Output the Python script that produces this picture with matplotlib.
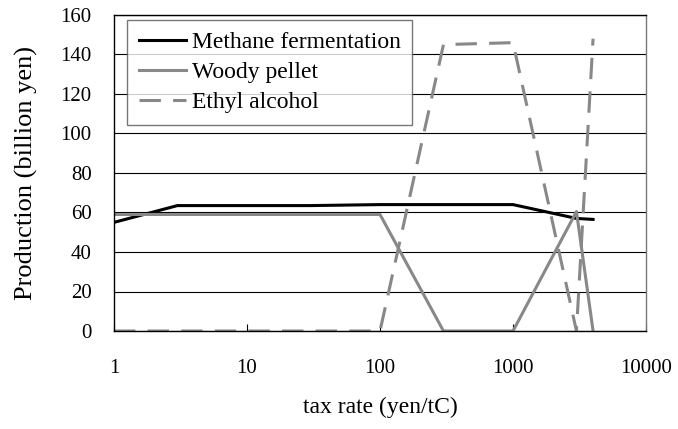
import matplotlib.pyplot as plt
import numpy as np

plt.rcParams["font.family"] = ["Liberation Serif", "DejaVu Serif"]

# tax rate (yen/tC) and production (billion yen)
tax = [1, 3, 10, 30, 100, 300, 1000, 3000, 4000]
methane = [55, 63.5, 63.5, 63.5, 64, 64, 64, 57, 56.5]
woody = [59, 59, 59, 59, 59, 0, 0, 60.5, 0]
ethyl = [0, 0, 0, 0, 0, 145, 146, 0, 148]

fig = plt.figure(figsize=(6.78, 4.29), dpi=100)
ax = fig.add_axes([114 / 678, 1 - 331 / 429, 532 / 678, 316 / 429])

ax.plot(tax, methane, color="black", lw=2.2, label="Methane fermentation")
ax.plot(tax, woody, color="#888888", lw=2.2, label="Woody pellet")
ax.plot(tax, ethyl, color="#888888", lw=2.2, dashes=(7, 4), label="Ethyl alcohol")

ax.set_xscale("log")
ax.set_xlim(1, 10000)
ax.set_ylim(0, 160)
ax.set_yticks(np.arange(0, 161, 20))
ax.set_xticks([1, 10, 100, 1000, 10000])
ax.set_xticklabels(["1", "10", "100", "1000", "10000"])
ax.minorticks_off()
ax.grid(axis="y", color="black", lw=0.8)
ax.set_axisbelow(True)

ax.tick_params(axis="x", direction="in", length=5, pad=20, labelsize=15)
ax.tick_params(axis="y", length=0, pad=16, labelsize=15)
for s in ax.spines.values():
    s.set_linewidth(1.0)
    s.set_color("black")
ax.spines["right"].set_color("#777777")

ax.set_xlabel("tax rate (yen/tC)", fontsize=17, labelpad=14)
ax.set_ylabel("Production (billion yen)", fontsize=19)
ax.yaxis.set_label_coords(-76 / 532, 0.5)

leg = ax.legend(loc="upper left", bbox_to_anchor=(0.024, 0.984), fontsize=17,
                frameon=True, fancybox=False, edgecolor="#555555",
                handlelength=2.0, handletextpad=0.25, labelspacing=0.36,
                borderpad=0.5, borderaxespad=0)
leg.get_frame().set_linewidth(1.0)

plt.savefig("out.png", dpi=100)
